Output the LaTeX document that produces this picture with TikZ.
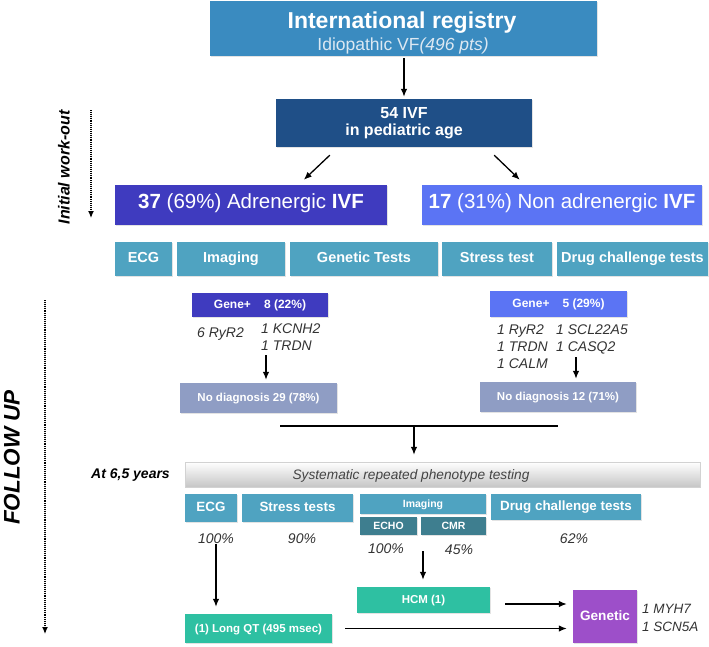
\documentclass[tikz,border=0pt]{standalone}
\usepackage{fontspec}
\setmainfont{Liberation Sans}
\usetikzlibrary{arrows.meta,shadows}

\definecolor{regblue}{HTML}{3A8BC0}
\definecolor{regsub}{HTML}{DCE8F2}
\definecolor{ivfblue}{HTML}{1F4F87}
\definecolor{adrblue}{HTML}{3F3BBF}
\definecolor{nonblue}{HTML}{5B74F4}
\definecolor{testblue}{HTML}{4FA3C1}
\definecolor{nodiag}{HTML}{8F9DC4}
\definecolor{echoteal}{HTML}{3E7E8F}
\definecolor{qtgreen}{HTML}{2EC0A2}
\definecolor{genpurple}{HTML}{9D4FC9}
\definecolor{genegray}{HTML}{333333}
\definecolor{phengray}{HTML}{444444}

\newcommand\fsz[2]{\fontsize{#1}{#2}\selectfont}

\tikzset{
  every box/.style={rectangle, inner sep=0pt, text=white, font=\bfseries,
    drop shadow={shadow xshift=1pt, shadow yshift=-1pt, opacity=0.22}},
  one line/.style={every box, text height=0.72em, text depth=0pt},
  gene name/.style={anchor=base west, inner sep=0pt, text=genegray, font=\itshape\fsz{14}{17}},
  pct/.style={anchor=base, inner sep=0pt, text=genegray, font=\itshape\fsz{14}{16}},
  link/.style={->, line width=1.3pt},
  dotted guide/.style={-{Latex[length=7pt,width=6pt]}, line width=1.2pt, dash pattern=on 1pt off 0.9pt},
}

\begin{document}
\begin{tikzpicture}[x=1pt, y=-1pt, >={Latex[length=8pt,width=6.5pt]}]
\useasboundingbox (0,0) rectangle (709,646);

% registry and cohort
\node [every box, fill=regblue, minimum width=387, minimum height=55] (registry) at (403,28.5) {};
\node [anchor=base, inner sep=0pt, text=white, font=\bfseries\fsz{23}{25}] (registry-title) at (402,28) {International registry};
\node [anchor=base, inner sep=0pt, text=regsub, font=\fsz{17.5}{20}] (registry-sub) at (403,50) {Idiopathic VF\textit{(496 pts)}};

\node [every box, fill=ivfblue, minimum width=256, minimum height=48, align=center,
  font=\bfseries\fsz{16}{17}] (ivf) at (404,123) {54 IVF\\in pediatric age};

\node [one line, fill=adrblue, minimum width=272, minimum height=40, font=\fsz{20.5}{24}]
  (adr) at (251,205) {\textbf{37} (69\%) Adrenergic \textbf{IVF}};
\node [one line, fill=nonblue, minimum width=280, minimum height=40, font=\fsz{20.5}{24}]
  (non) at (562,205) {\textbf{17} (31\%) Non adrenergic \textbf{IVF}};

\draw [link, shorten <=2pt, shorten >=2pt] (registry.south -| ivf.north) -- (ivf.north);
\draw [link] ([xshift=54pt,yshift=-8pt]ivf.south west) -- ([xshift=189pt,yshift=5pt]adr.north west);
\draw [link] ([xshift=-38pt,yshift=-8pt]ivf.south east) -- ([xshift=98pt,yshift=5pt]non.north west);

% initial tests
\foreach \n/\l/\c/\w in {ecg/ECG/143.5/57, imaging/Imaging/231/108, genetic/Genetic Tests/364/148,
    stress/Stress test/497/110, drug/Drug challenge tests/632.5/151}
  \node [one line, fill=testblue, minimum width=\w, minimum height=34,
    font=\bfseries\fsz{14.5}{17}] (test-\n) at (\c,259) {\l};

% genetic results
\node [one line, fill=adrblue, minimum width=136, minimum height=24, font=\bfseries\fsz{12}{14}]
  (gene-adr) at (260,305) {Gene+\hspace{13pt}8 (22\%)};
\node [one line, fill=nonblue, minimum width=137, minimum height=26, font=\bfseries\fsz{12}{14}]
  (gene-non) at (558.5,304) {Gene+\hspace{13pt}5 (29\%)};

\foreach \g/\x/\y [count=\i] in {6 RyR2/197/337, 1 KCNH2/261/333, 1 TRDN/261/350}
  \node [gene name] (mut-adr-\i) at (\x,\y) {\g};
\foreach \g/\x/\y [count=\i] in {1 RyR2/497/334, 1 SCL22A5/556/334, 1 TRDN/497/351,
    1 CASQ2/556/351, 1 CALM/497/368}
  \node [gene name] (mut-non-\i) at (\x,\y) {\g};

\node [one line, fill=nodiag, minimum width=157, minimum height=30, font=\bfseries\fsz{11.5}{14}]
  (nodiag-adr) at (258.5,398) {No diagnosis 29 (78\%)};
\node [one line, fill=nodiag, minimum width=156, minimum height=30, font=\bfseries\fsz{11.5}{14}]
  (nodiag-non) at (558,397) {No diagnosis 12 (71\%)};

\coordinate (drop-adr) at (266,355);
\coordinate (drop-non) at (576,357);
\draw [link, shorten >=3pt] (drop-adr) -- (drop-adr |- nodiag-adr.north);
\draw [link, shorten >=3pt] (drop-non) -- (drop-non |- nodiag-non.north);

% follow up
\node [rectangle, minimum width=515, minimum height=25, top color=white, bottom color=gray!45,
  draw=gray!35, drop shadow={shadow xshift=1pt, shadow yshift=-1pt, opacity=0.2}]
  (phenotype) at (442.5,474.5) {};
\node [anchor=base, inner sep=0pt, text=phengray, font=\itshape\fsz{13.7}{16}]
  (phenotype-text) at (411,479) {Systematic repeated phenotype testing};
\node [anchor=base west, inner sep=0pt, font=\bfseries\itshape\fsz{14}{16}] (when) at (91,478) {At 6,5 years};

\coordinate (join-l) at (280,426);
\coordinate (join-r) at (558,426);
\coordinate (join) at (414,426);
\draw [line width=1.8pt] (join-l) -- (join-r);
\draw [link, shorten >=7pt] (join) -- (join |- phenotype.north);

\foreach \n/\l/\c/\y/\w/\h in {ecg/ECG/211/508/52/28, stress/Stress tests/297.5/508/111/28,
    drug/Drug challenge tests/566/507/150/26}
  \node [one line, fill=testblue, minimum width=\w, minimum height=\h,
    font=\bfseries\fsz{13.4}{16}] (fu-\n) at (\c,\y) {\l};
\node [one line, fill=testblue, minimum width=126, minimum height=20, font=\bfseries\fsz{10.5}{12}]
  (fu-imaging) at (423,504) {Imaging};
\node [one line, fill=echoteal, minimum width=57, minimum height=18, font=\bfseries\fsz{10.5}{12}]
  (fu-echo) at (388.5,526) {ECHO};
\node [one line, fill=echoteal, minimum width=65, minimum height=18, font=\bfseries\fsz{10.5}{12}]
  (fu-cmr) at (453.5,526) {CMR};

\foreach \n/\p/\x/\y in {ecg/100/216/543, stress/90/302/543, drug/62/574/543, echo/100/386/553, cmr/45/459/554}
  \node [pct] (pct-\n) at (\x,\y) {\p\%};

% findings
\node [one line, fill=qtgreen, minimum width=147, minimum height=29, font=\bfseries\fsz{11.5}{14}]
  (longqt) at (258.5,628.5) {(1) Long QT (495 msec)};
\node [one line, fill=qtgreen, minimum width=133, minimum height=26, font=\bfseries\fsz{11.5}{14}]
  (hcm) at (423.5,600) {HCM (1)};
\node [one line, fill=genpurple, minimum width=64, minimum height=53, font=\bfseries\fsz{13.6}{16}]
  (genetic) at (605,616.5) {Genetic};
\node [gene name, font=\itshape\fsz{13.5}{16}] (mut-gen-1) at (642,613) {1 MYH7};
\node [gene name, font=\itshape\fsz{13.5}{16}] (mut-gen-2) at (642,631) {1 SCN5A};

\coordinate (drop-img) at (423,551);
\coordinate (hcm-out) at ([yshift=-4pt]hcm.east);
\draw [link, shorten <=1pt, shorten >=7pt] (pct-ecg.south) -- (pct-ecg.south |- longqt.north);
\draw [link, shorten >=7pt] (drop-img) -- (drop-img |- hcm.north);
\draw [link, shorten <=15pt, shorten >=6pt] (hcm-out) -- (hcm-out -| genetic.west);
\draw [link, shorten <=13pt, shorten >=6pt] (longqt.east) -- (longqt.east -| genetic.west);

% side labels
\node [rotate=90, inner sep=0pt, font=\bfseries\itshape\fsz{16}{18}] (workout-label) at (64,167.5) {Initial work-out};
\coordinate (workout-top) at (91,110);
\coordinate (workout-end) at (91,218);
\draw [dotted guide] (workout-top) -- (workout-end);

\node [rotate=90, inner sep=0pt, font=\bfseries\itshape\fsz{22.5}{25}] (followup-label) at (12,457.5) {FOLLOW UP};
\coordinate (followup-top) at (45,300);
\coordinate (followup-end) at (45,634);
\draw [dotted guide] (followup-top) -- (followup-end);

\end{tikzpicture}
\end{document}
